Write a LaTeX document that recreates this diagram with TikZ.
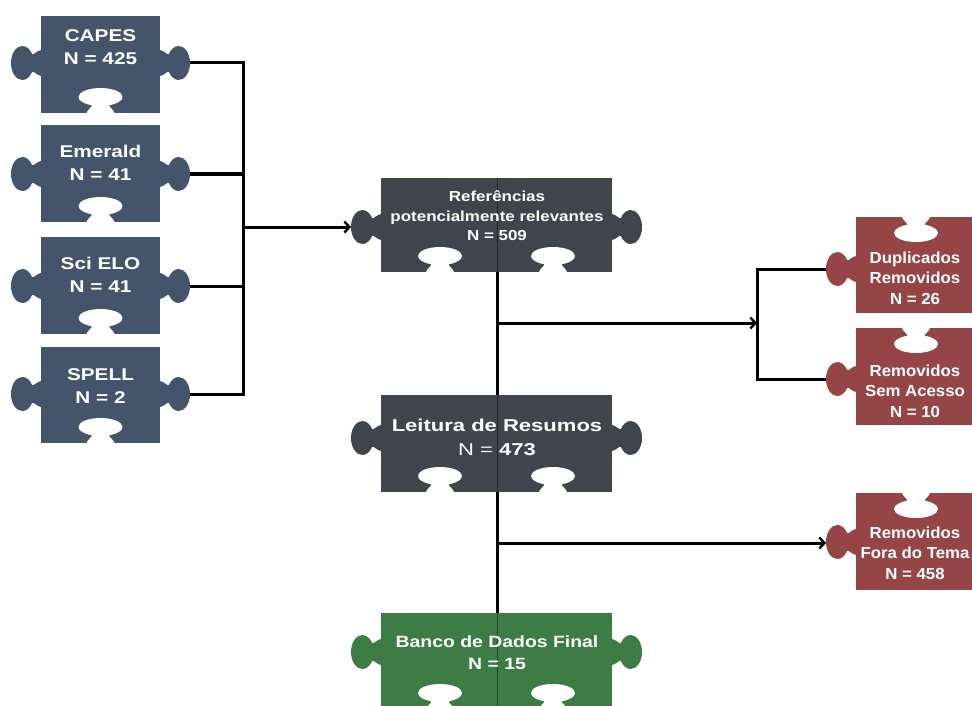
\documentclass[tikz,border=0pt]{standalone}
\usepackage{fontspec}
\setmainfont{Liberation Sans}
\usetikzlibrary{arrows.meta}
\definecolor{pblue}{RGB}{68,84,106}
\definecolor{pdark}{RGB}{64,68,77}
\definecolor{pgreen}{RGB}{62,124,69}
\definecolor{pred}{RGB}{149,69,69}
\tikzset{
  conn/.style={line width=3pt, black},
  arr/.style={conn, -{Straight Barb[length=5pt,width=11pt,line width=2.4pt]}},
  seam/.style={line width=0.8pt, black, opacity=0.45},
  lbl/.style={text=white, align=center, inner sep=0pt, transform shape},
  bluetxt/.style={lbl, xscale=1.22, font=\fontsize{17}{23}\selectfont\bfseries},
  reftxt/.style={lbl, xscale=1.17, font=\fontsize{14.5}{19.5}\selectfont\bfseries},
  leittxt/.style={lbl, xscale=1.28, font=\fontsize{17.2}{24}\selectfont\bfseries},
  bancotxt/.style={lbl, xscale=1.19, font=\fontsize{16.3}{22}\selectfont\bfseries},
  redtxt/.style={lbl, xscale=1.05, font=\fontsize{16}{20.5}\selectfont\bfseries},
}
% knob: colour, x, y, rotation (0 = points right)
\newcommand{\knob}[4]{%
  \fill[#1,shift={(#2,#3)},rotate=#4]
    (-1,-13) -- (0,-13)
    .. controls (4,-12.5) and (8.1,-7.1) .. (8.9,-9)
    .. controls (11,-14) and (14.7,-17) .. (18.6,-17)
    .. controls (24.9,-17) and (30,-9.4) .. (30,0)
    .. controls (30,9.4) and (24.9,17) .. (18.6,17)
    .. controls (14.7,17) and (11,14) .. (8.9,9)
    .. controls (8.1,7.1) and (4,12.5) .. (0,13)
    -- (-1,13) -- cycle;}
% socket: x, y, rotation (0 = goes right into the body)
\newcommand{\socket}[3]{%
  \fill[white,shift={(#1,#2)},rotate=#3]
    (-1.5,-14) -- (0,-14)
    .. controls (3,-13.5) and (7.4,-6.8) .. (7.8,-9)
    .. controls (9.25,-16.9) and (12.45,-22) .. (16,-22)
    .. controls (21,-22) and (25,-12.2) .. (25,0)
    .. controls (25,12.2) and (21,22) .. (16,22)
    .. controls (12.45,22) and (9.25,16.9) .. (7.8,9)
    .. controls (7.4,6.8) and (3,13.5) .. (0,14)
    -- (-1.5,14) -- cycle;}
% source piece: top, bottom, knob y
\newcommand{\srcpiece}[3]{%
  \fill[pblue] (41,#1) rectangle (160,#2);
  \knob{pblue}{41}{#3}{180}
  \knob{pblue}{160}{#3}{0}
  \socket{100.5}{#2}{90}}
% middle piece: colour, top, bottom, knob y
\newcommand{\midpiece}[4]{%
  \fill[#1] (381,#2) rectangle (612,#3);
  \knob{#1}{381}{#4}{180}
  \knob{#1}{612}{#4}{0}
  \socket{440}{#3}{90}
  \socket{553}{#3}{90}
  \draw[seam] (497,#2) -- (497,#3);}
% removed piece: top, bottom, knob y
\newcommand{\rempiece}[3]{%
  \fill[pred] (856,#1) rectangle (985,#2);
  \knob{pred}{856}{#3}{180}
  \socket{916}{#1}{-90}}
\begin{document}
\begin{tikzpicture}[x=1pt,y=-1pt]
\useasboundingbox (0,0) rectangle (972,706);
\begin{scope}
\clip (0,0) rectangle (972,706);
\srcpiece{16}{113}{63}
\srcpiece{125}{222}{174}
\srcpiece{237}{334}{286}
\srcpiece{347}{443}{394}
\midpiece{pdark}{178}{272}{227}
\midpiece{pdark}{395}{492}{438}
\midpiece{pgreen}{613}{709}{652}
\rempiece{217}{313}{269}
\rempiece{328}{425}{379}
\rempiece{493}{590}{542}
\end{scope}

% texts
\node[bluetxt] (capes) at (100.5,47) {CAPES\\N = 425};
\node[bluetxt] (emerald) at (100.5,163) {Emerald\\N = 41};
\node[bluetxt] (scielo) at (100.5,275) {Sci ELO\\N = 41};
\node[bluetxt] (spell) at (100.5,386) {SPELL\\N = 2};
\node[reftxt] (ref) at (497,216) {Referências\\potencialmente relevantes\\N = 509};
\node[leittxt] (leit) at (497,437) {Leitura de Resumos\\{\mdseries N =} 473};
\node[bancotxt] (banco) at (497,653) {Banco de Dados Final\\N = 15};
\node[redtxt] (dup) at (915,278) {Duplicados\\Removidos\\N = 26};
\node[redtxt] (semac) at (915,391) {Removidos\\Sem Acesso\\N = 10};
\node[redtxt] (fora) at (915,553) {Removidos\\Fora do Tema\\N = 458};

% connection points
\coordinate (capesR) at (190,63);
\coordinate (emeraldR) at (190,174);
\coordinate (scieloR) at (190,286);
\coordinate (spellR) at (190,394);
\coordinate (busTop) at (243,63);
\coordinate (busBot) at (243,394);
\coordinate (busL) at (243,227);
\coordinate (refL) at (351,227);
\coordinate (refB) at (497,272);
\coordinate (leitT) at (497,395);
\coordinate (leitB) at (497,492);
\coordinate (bancoT) at (497,613);
\coordinate (j1) at (497,323);
\coordinate (bracket) at (757,323);
\coordinate (brTop) at (757,269);
\coordinate (brBot) at (757,379);
\coordinate (dupL) at (826,269);
\coordinate (semacL) at (826,379);
\coordinate (j2) at (497,543);
\coordinate (foraL) at (826,543);

% connectors
\draw[conn] (capesR) -- (busTop) -- (busBot) -- (spellR);
\draw[conn] (emeraldR) -- (emeraldR -| busTop);
\draw[conn] (scieloR) -- (scieloR -| busTop);
\draw[arr] (busL) -- (refL);
\draw[conn] (refB) -- (leitT);
\draw[arr] (j1) -- (bracket);
\draw[conn] (dupL) -- (brTop) -- (brBot) -- (semacL);
\draw[conn] (leitB) -- (bancoT);
\draw[arr] (j2) -- (foraL);
\end{tikzpicture}
\end{document}
